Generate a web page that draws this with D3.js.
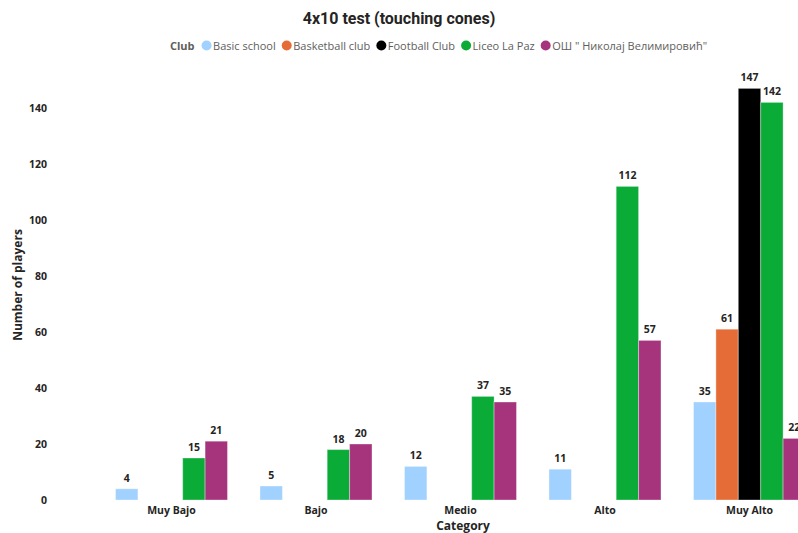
<!DOCTYPE html>
<html>
<head>
<meta charset="utf-8">
<script src="https://cdn.jsdelivr.net/npm/d3@7"></script>
<style>
  html, body { margin: 0; padding: 0; background: #fff; overflow: hidden; }
  svg { display: block; }
</style>
</head>
<body>
<svg id="chart" width="798" height="533"></svg>
<script>
// Categories and series
const categories = ["Muy Bajo", "Bajo", "Medio", "Alto", "Muy Alto"];
const clubs = ["Basic school", "Basketball club", "Football Club", "Liceo La Paz", "ОШ \" Николај Велимировић\""];
const clubColors = ["#a0d1ff", "#e66c37", "#000000", "#0aab36", "#a5347c"];
// values per club, in category order (null = no bar)
const basicSchool   = [4, 5, 12, 11, 35];
const basketball    = [null, null, null, null, 61];
const football      = [null, null, null, null, 147];
const liceoLaPaz    = [15, 18, 37, 112, 142];
const osNikolaj     = [21, 20, 35, 57, 22];
const yTicks = [0, 20, 40, 60, 80, 100, 120, 140];

const seriesValues = [basicSchool, basketball, football, liceoLaPaz, osNikolaj];

const svg = d3.select("#chart");
const font = "'Open Sans', 'Segoe UI', sans-serif";

// Scales
const step = 144.5, pad = 0.225;
const x0Start = 115.5 - pad * step / 2;
const x = d3.scaleBand().domain(categories)
  .range([x0Start, x0Start + step * categories.length])
  .paddingInner(pad).paddingOuter(pad / 2);
const xi = d3.scaleBand().domain(clubs).range([0, x.bandwidth()]).padding(0);
const y = d3.scaleLinear().domain([0, 140]).range([500, 108]);

// Title
svg.append("text").attr("x", 399).attr("y", 24).attr("text-anchor", "middle")
  .attr("font-family", "Roboto, 'DejaVu Sans', sans-serif").attr("font-weight", "bold")
  .attr("font-size", 16).attr("fill", "#252423").text("4x10 test (touching cones)");

// Legend
const lg = svg.append("g").attr("font-family", font).attr("font-size", 11);
let lx = 170;
const head = lg.append("text").attr("x", lx).attr("y", 49.5).attr("font-weight", "bold")
  .attr("fill", "#605e5c").text("Club");
lx += head.node().getComputedTextLength() + 12;
clubs.forEach((c, i) => {
  lg.append("circle").attr("cx", lx).attr("cy", 45.5).attr("r", 5).attr("fill", clubColors[i]);
  const t = lg.append("text").attr("x", lx + 6.5).attr("y", 49.5).attr("fill", "#605e5c").text(c);
  lx += 6.5 + t.node().getComputedTextLength() + 11;
});

// Y axis (labels only)
const yAxis = svg.append("g").attr("transform", "translate(47,0)")
  .call(d3.axisLeft(y).tickValues(yTicks).tickSize(0).tickPadding(0));
yAxis.select(".domain").remove();
yAxis.selectAll("text").attr("font-family", font).attr("font-weight", "bold")
  .attr("font-size", 10.5).attr("fill", "#252423").attr("dy", "0.35em");

svg.append("text").attr("transform", "translate(22,285) rotate(-90)")
  .attr("text-anchor", "middle").attr("font-family", font).attr("font-weight", "bold")
  .attr("font-size", 12).attr("fill", "#252423").text("Number of players");

// X axis (labels only)
const xAxis = svg.append("g").attr("transform", "translate(0,500)")
  .call(d3.axisBottom(x).tickSize(0).tickPadding(7));
xAxis.select(".domain").remove();
xAxis.selectAll("text").attr("font-family", font).attr("font-weight", "bold")
  .attr("font-size", 10.5).attr("fill", "#252423");

svg.append("text").attr("x", 463).attr("y", 530).attr("text-anchor", "middle")
  .attr("font-family", font).attr("font-weight", "bold")
  .attr("font-size", 12).attr("fill", "#252423").text("Category");

// Bars
const data = [];
categories.forEach((cat, ci) => {
  clubs.forEach((club, si) => {
    const v = seriesValues[si][ci];
    if (v != null) data.push({ cat, club, si, v });
  });
});

const bars = svg.append("g");
bars.selectAll("rect").data(data).join("rect")
  .attr("x", d => x(d.cat) + xi(d.club))
  .attr("y", d => y(d.v))
  .attr("width", xi.bandwidth())
  .attr("height", d => y(0) - y(d.v))
  .attr("fill", d => clubColors[d.si])
  .attr("stroke", "rgba(255,255,255,0.35)")
  .attr("stroke-width", 1);

// Value labels
const labels = svg.append("g").attr("font-family", font).attr("font-weight", "bold")
  .attr("font-size", 10.5).attr("fill", "#252423").attr("text-anchor", "middle");
labels.selectAll("g").data(data).join("g")
  .attr("transform", d => `translate(${x(d.cat) + xi(d.club) + xi.bandwidth() / 2},${y(d.v) - 7})`)
  .each(function (d) {
    const g = d3.select(this);
    const t = g.append("text").text(d.v);
    // keep labels readable when they sit over a neighbouring bar
    if (d.si === 4 && d.cat === "Muy Alto") {
      const bb = t.node().getBBox();
      g.insert("rect", "text").attr("x", bb.x - 2).attr("y", bb.y - 1)
        .attr("width", bb.width + 4).attr("height", bb.height + 2).attr("fill", "#fff");
    }
  });
</script>
</body>
</html>
